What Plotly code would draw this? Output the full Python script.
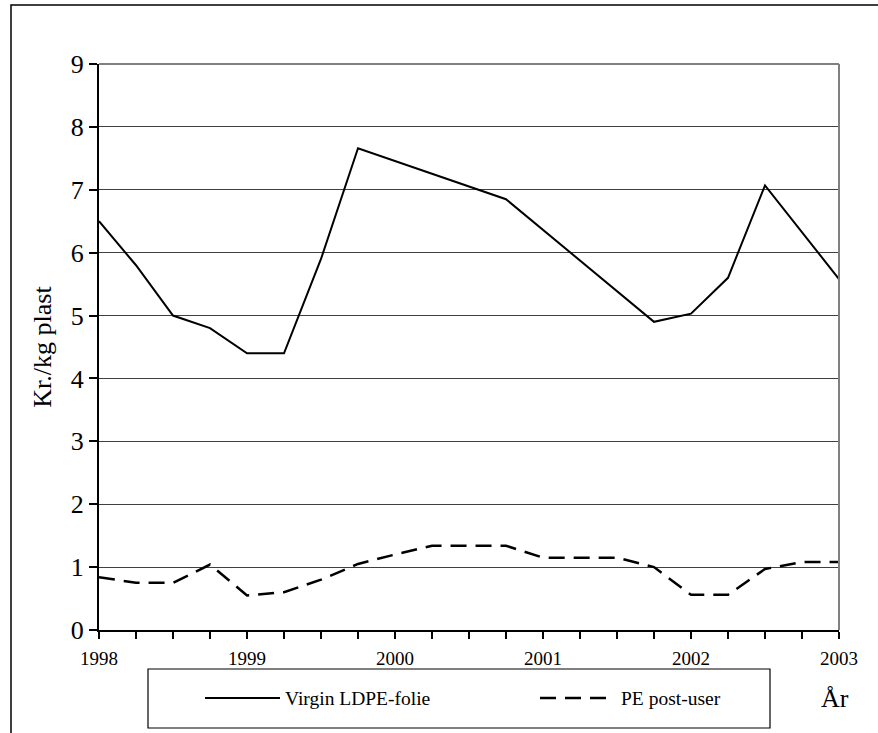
import plotly.graph_objects as go

# ---- data ----
series_names = ["Virgin LDPE-folie", "PE post-user"]

virgin_x = [1998.0, 1998.25, 1998.5, 1998.75, 1999.0, 1999.25, 1999.5, 1999.75,
            2000.75, 2001.75, 2002.0, 2002.25, 2002.5, 2003.0]
virgin_y = [6.5, 5.8, 5.0, 4.8, 4.4, 4.4, 5.9, 7.66,
            6.85, 4.9, 5.03, 5.6, 7.07, 5.58]

pe_x = [1998.0, 1998.25, 1998.5, 1998.75, 1999.0, 1999.25, 1999.5, 1999.75,
        2000.0, 2000.25, 2000.5, 2000.75, 2001.0, 2001.25, 2001.5, 2001.75,
        2002.0, 2002.25, 2002.5, 2002.75, 2003.0]
pe_y = [0.84, 0.75, 0.75, 1.04, 0.55, 0.6, 0.8, 1.05,
        1.2, 1.34, 1.34, 1.34, 1.15, 1.15, 1.15, 1.0,
        0.56, 0.56, 0.97, 1.08, 1.08]

year_ticks = [1998, 1999, 2000, 2001, 2002, 2003]
year_labels = ["1998", "1999", "2000", "2001", "2002", "2003"]
y_title = "Kr./kg plast"
x_title = "År"

FONT = "Liberation Serif"
DASH = "16px,9px"

fig = go.Figure()
fig.add_trace(go.Scatter(x=virgin_x, y=virgin_y, mode="lines", name=series_names[0],
                         line=dict(color="black", width=2), showlegend=False))
fig.add_trace(go.Scatter(x=pe_x, y=pe_y, mode="lines", name=series_names[1],
                         line=dict(color="black", width=2.5, dash=DASH), showlegend=False))

W, H = 878, 733
L, T = 99, 64
R = W - 839
B = H - 630
pw, ph = W - L - R, H - T - B

def px(xpix):
    return (xpix - L) / pw

def py(ypix):
    return (H - B - ypix) / ph

shapes = [
    # outer frame (cut off at right/bottom)
    dict(type="rect", xref="paper", yref="paper", x0=px(11), x1=px(900), y0=py(760), y1=py(5),
         line=dict(color="black", width=1.5)),
    # plot area top and right borders (gray)
    dict(type="line", xref="paper", yref="paper", x0=0, x1=1, y0=1, y1=1,
         line=dict(color="#808080", width=2)),
    dict(type="line", xref="paper", yref="paper", x0=1, x1=1, y0=0, y1=1,
         line=dict(color="#808080", width=2)),
    # legend box
    dict(type="rect", xref="paper", yref="paper", x0=px(148), x1=px(770), y0=py(728), y1=py(669),
         line=dict(color="black", width=1.2), fillcolor="rgba(0,0,0,0)"),
    # legend samples
    dict(type="line", xref="paper", yref="paper", x0=px(205), x1=px(280), y0=py(698), y1=py(698),
         line=dict(color="black", width=2)),
    dict(type="line", xref="paper", yref="paper", x0=px(540), x1=px(612), y0=py(698), y1=py(698),
         line=dict(color="black", width=2.5, dash=DASH)),
]

annotations = [
    dict(xref="paper", yref="paper", x=px(283), y=py(698), text=series_names[0], showarrow=False,
         xanchor="left", yanchor="middle", font=dict(family=FONT, size=19.5, color="black")),
    dict(xref="paper", yref="paper", x=px(619), y=py(698), text=series_names[1], showarrow=False,
         xanchor="left", yanchor="middle", font=dict(family=FONT, size=19.5, color="black")),
    dict(xref="paper", yref="paper", x=px(835), y=py(698), text=x_title, showarrow=False,
         xanchor="center", yanchor="middle", font=dict(family=FONT, size=26, color="black")),
]

fig.update_layout(
    width=W, height=H,
    margin=dict(l=L, r=R, t=T, b=B),
    paper_bgcolor="white", plot_bgcolor="white",
    font=dict(family=FONT, color="black"),
    shapes=shapes, annotations=annotations,
    showlegend=False,
)
fig.update_xaxes(
    range=[1998, 2003], tickvals=year_ticks, ticktext=year_labels,
    ticks="outside", ticklen=7, tickwidth=1.5, tickcolor="black",
    tickfont=dict(family=FONT, size=19, color="black"), ticklabelstandoff=3,
    showline=True, linecolor="black", linewidth=2,
    showgrid=False, zeroline=False,
    minor=dict(dtick=0.25, tick0=1998, ticks="outside", ticklen=7, tickwidth=1.5, tickcolor="black", showgrid=False),
)
fig.update_yaxes(
    range=[0, 9], dtick=1, tick0=0,
    ticks="outside", ticklen=8, tickwidth=1.5, tickcolor="black",
    tickfont=dict(family=FONT, size=26, color="black"),
    showline=True, linecolor="black", linewidth=2,
    showgrid=True, gridcolor="#404040", gridwidth=1, zeroline=False,
    title=dict(text=y_title, font=dict(family=FONT, size=26, color="black"), standoff=12),
)

fig.write_html("out.html", config={"displayModeBar": False},
               post_script="document.body.style.margin='0';document.body.style.overflow='hidden';")
